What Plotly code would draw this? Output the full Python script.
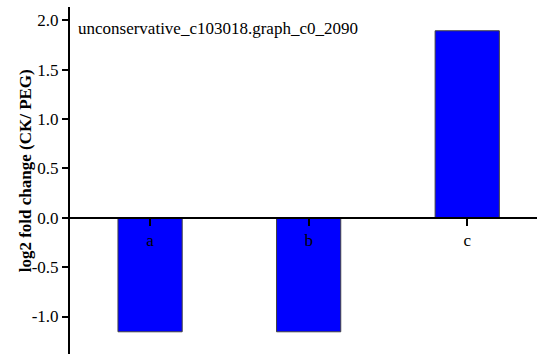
import plotly.graph_objects as go

categories = ["a", "b", "c"]
values = [-1.155, -1.155, 1.895]
y_ticks = [-1.0, -0.5, 0.0, 0.5, 1.0, 1.5, 2.0]
y_ticklabels = ["-1.0", "-0.5", "0.0", "0.5", "1.0", "1.5", "2.0"]
title_text = "unconservative_c103018.graph_c0_2090"
y_title = "log2 fold change (CK/ PEG)"

ymin, ymax = -1.38, 2.136
serif = "Liberation Serif"

fig = go.Figure()
fig.add_trace(go.Bar(
    x=list(range(len(categories))), y=values, width=0.405,
    marker=dict(color="#0000FF", line=dict(color="#404040", width=1)),
))

fig.update_layout(
    width=537, height=354,
    margin=dict(l=70, r=0, t=7, b=0),
    plot_bgcolor="white", paper_bgcolor="white",
    showlegend=False,
    font=dict(family=serif, size=17, color="black"),
    xaxis=dict(
        range=[-0.505, 2.44],
        tickmode="array", tickvals=list(range(len(categories))), ticktext=categories,
        showline=True, linecolor="black", linewidth=2,
        ticks="outside", ticklen=7, tickwidth=2, tickcolor="black",
        showgrid=False, zeroline=False,
        anchor="free", position=(0 - ymin) / (ymax - ymin),
        tickfont=dict(family=serif, size=17, color="black"),
    ),
    yaxis=dict(
        range=[ymin, ymax],
        tickmode="array", tickvals=y_ticks, ticktext=y_ticklabels,
        showline=True, linecolor="black", linewidth=2,
        ticks="outside", ticklen=6, tickwidth=2, tickcolor="black",
        showgrid=False, zeroline=False,
        tickfont=dict(family=serif, size=17, color="black"),
    ),
)

fig.add_annotation(
    text=title_text, xref="paper", yref="paper", x=0.013, y=0.97,
    xanchor="left", yanchor="top", showarrow=False,
    font=dict(family=serif, size=17, color="black"),
)
fig.add_annotation(
    text="<b>" + y_title + "</b>", xref="paper", yref="paper",
    x=-0.096, y=0.527, xanchor="center", yanchor="middle",
    textangle=-90, showarrow=False,
    font=dict(family=serif, size=17, color="black"),
)

fig.write_html("out.html")
